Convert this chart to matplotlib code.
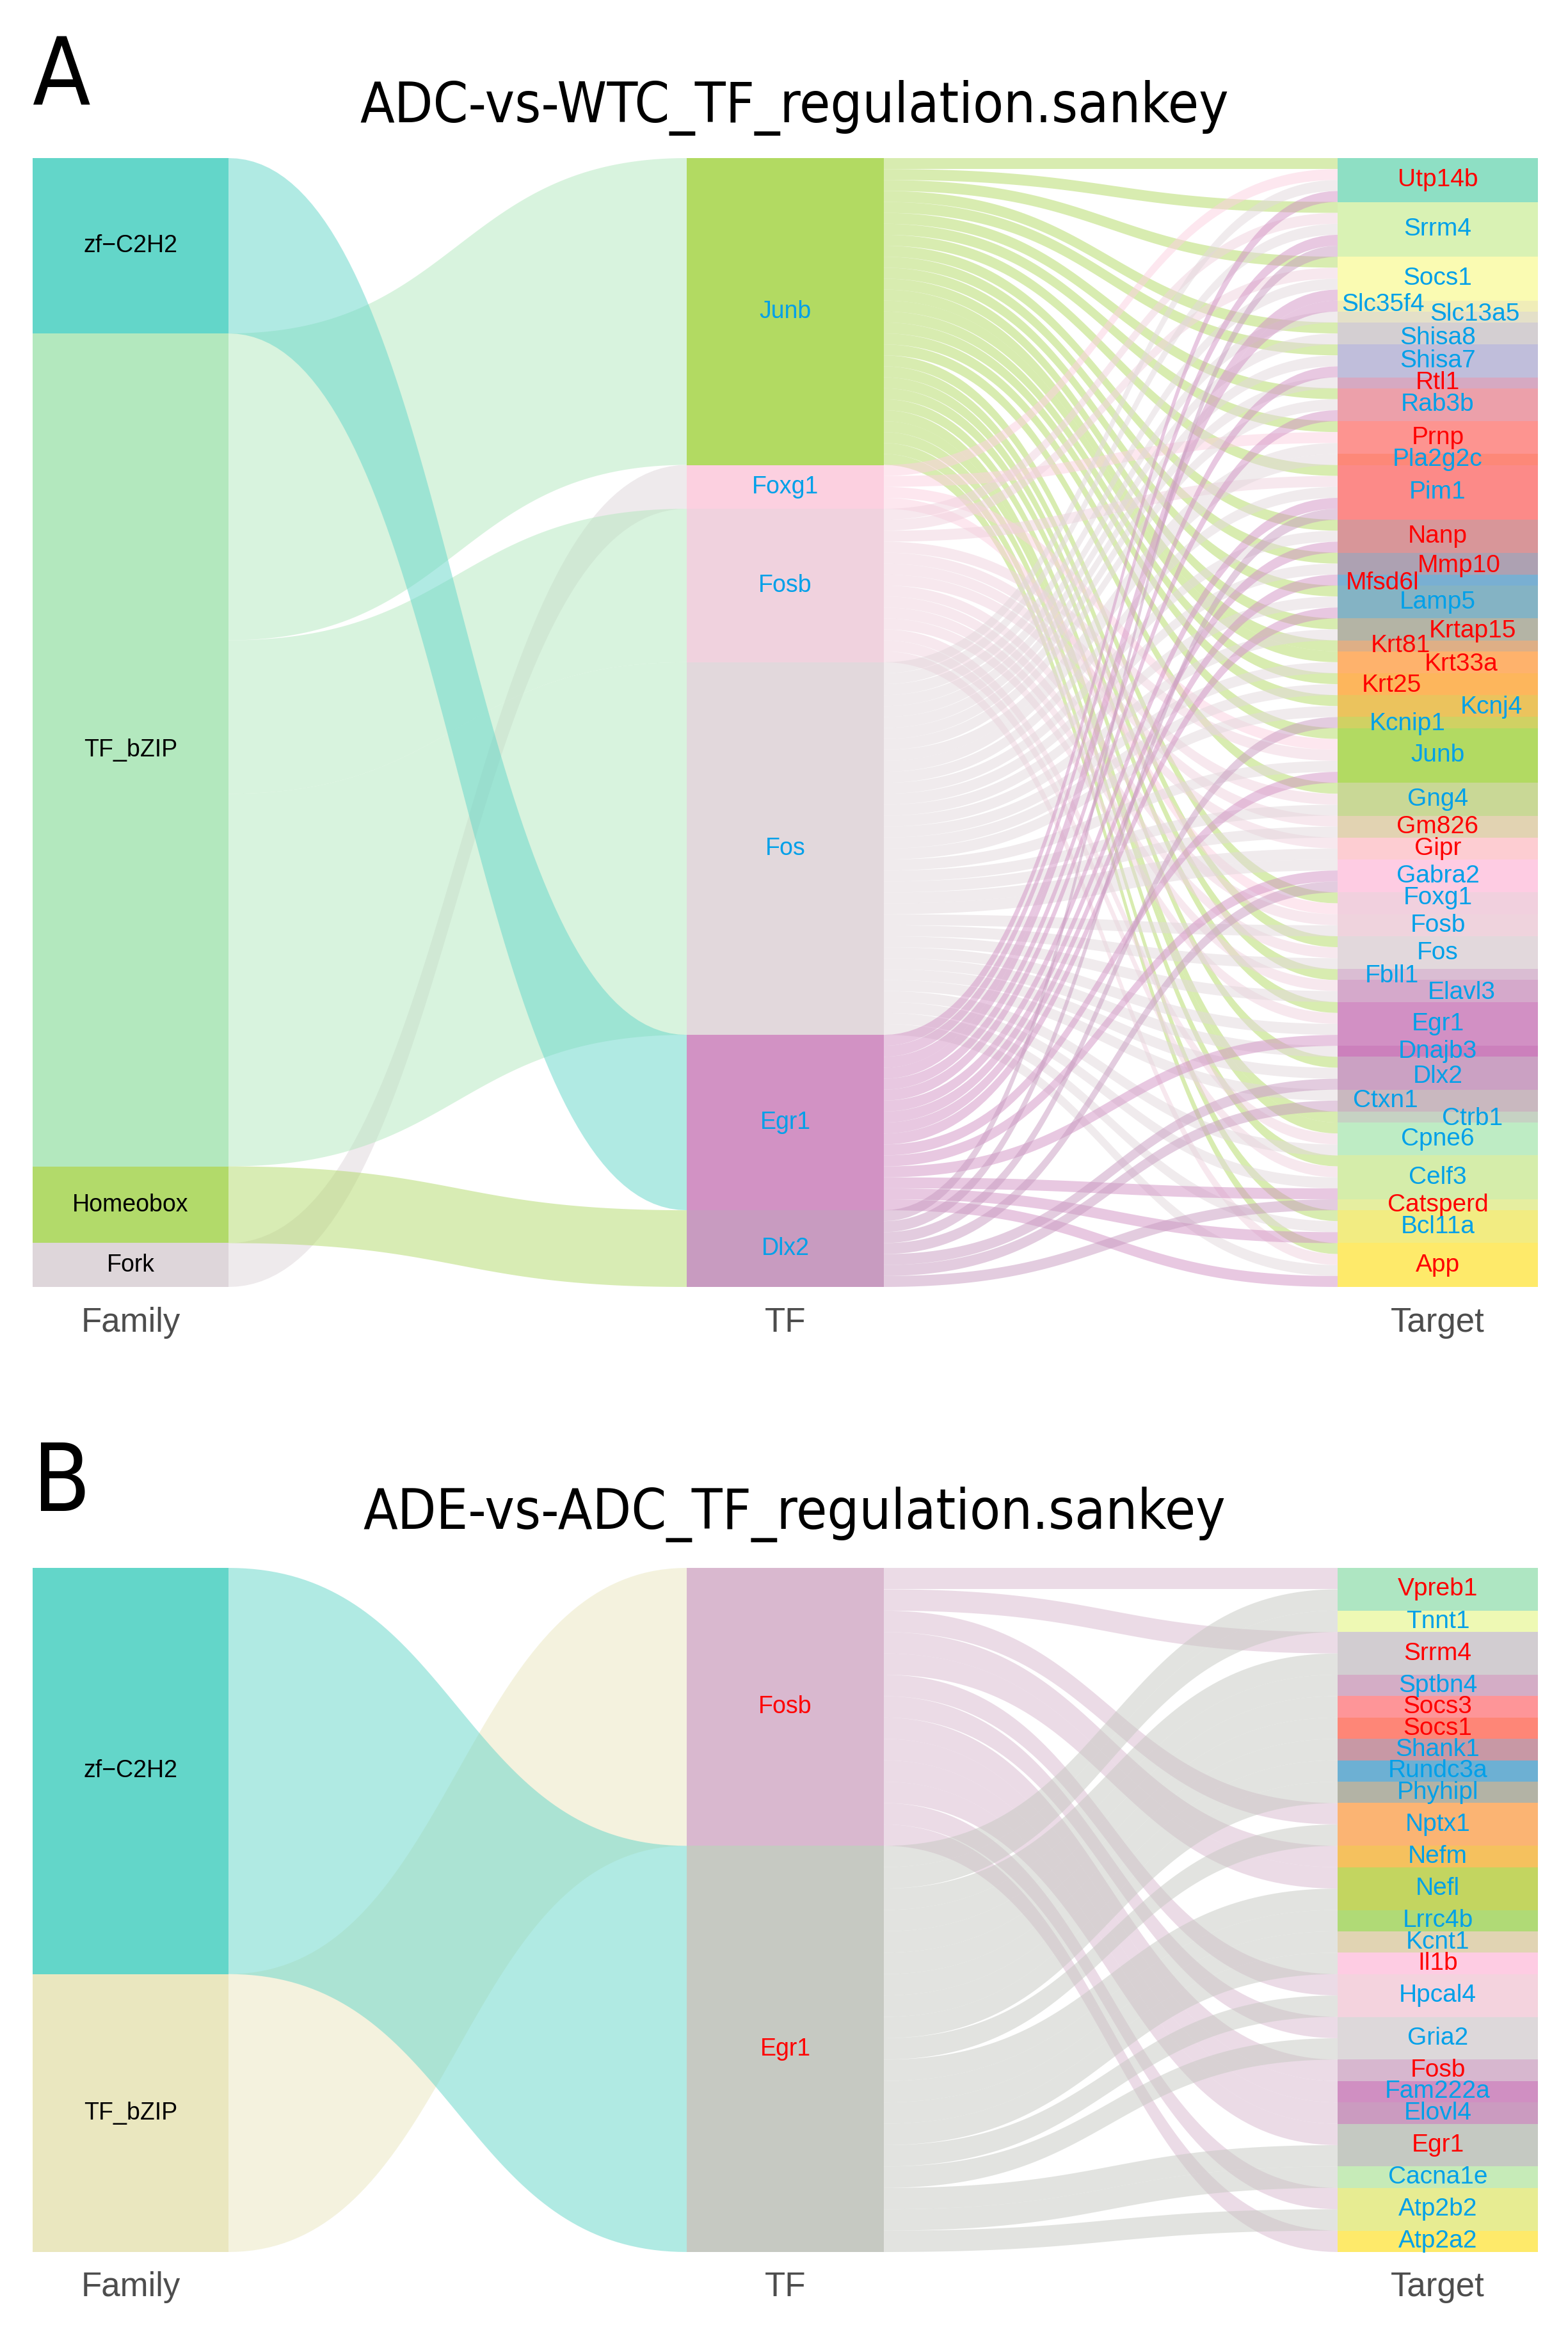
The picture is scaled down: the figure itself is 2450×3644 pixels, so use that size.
import matplotlib
matplotlib.use('Agg')
import matplotlib.pyplot as plt
import numpy as np
from matplotlib.patches import Polygon, Rectangle
from matplotlib import font_manager

# ---------------- panel A data ----------------
a_families = ['zf−C2H2', 'TF_bZIP', 'Homeobox', 'Fork']
a_family_colors = ['#63D6C9', '#B3E8BE', '#B2DA6A', '#DED6DA']
a_tfs = ['Junb', 'Foxg1', 'Fosb', 'Fos', 'Egr1', 'Dlx2']
a_tf_family = ['TF_bZIP', 'Fork', 'TF_bZIP', 'TF_bZIP', 'zf−C2H2', 'Homeobox']
a_tf_colors = ['#B2DA62', '#FCD0E0', '#F0D2DE', '#E2D8DC', '#D292C4', '#C89BC0']
a_tf_up = []

a_targets = ['Utp14b', 'Srrm4', 'Socs1', 'Slc35f4', 'Slc13a5', 'Shisa8', 'Shisa7',
             'Rtl1', 'Rab3b', 'Prnp', 'Pla2g2c', 'Pim1', 'Nanp', 'Mmp10', 'Mfsd6l',
             'Lamp5', 'Krtap15', 'Krt81', 'Krt33a', 'Krt25', 'Kcnj4', 'Kcnip1', 'Junb',
             'Gng4', 'Gm826', 'Gipr', 'Gabra2', 'Foxg1', 'Fosb', 'Fos', 'Fbll1', 'Elavl3',
             'Egr1', 'Dnajb3', 'Dlx2', 'Ctxn1', 'Ctrb1', 'Cpne6', 'Celf3', 'Catsperd',
             'Bcl11a', 'App']
a_target_colors = ['#8EDFC4', '#D9F2B4', '#FAFBB2', '#F0EDB8', '#E4E0C8', '#D4CFD2',
                   '#C0BEDB', '#D6A9C2', '#ECA0AA', '#FD9490', '#FD8878', '#FC8A88',
                   '#D89699', '#ADA1B2', '#79AFD2', '#84B3C4', '#B4B4A5', '#DEAF86',
                   '#FEB26C', '#FDB65C', '#EBC35D', '#D0D163', '#B2DA62', '#C9D896',
                   '#E2D3B2', '#FDCDD2', '#FECCE3', '#F1D0DE', '#EFD3DD', '#E2D8DC',
                   '#DABDD3', '#D5A9CB', '#D290C4', '#CC80BC', '#CBA1C3', '#C9B8BF',
                   '#C6D2C3', '#BEECC4', '#D5EDAA', '#E6EEA0', '#F2EC82', '#FEEA6A']
a_target_up = ['Utp14b', 'Rtl1', 'Prnp', 'Nanp', 'Mmp10', 'Mfsd6l', 'Krtap15', 'Krt81',
               'Krt33a', 'Krt25', 'Gm826', 'Gipr', 'Catsperd', 'App']

a_junb_targets = ['Utp14b', 'Srrm4', 'Socs1', 'Shisa8', 'Shisa7', 'Rab3b', 'Prnp', 'Pim1',
                  'Nanp', 'Mmp10', 'Lamp5', 'Krtap15', 'Krt81', 'Krt33a', 'Krt25', 'Kcnj4',
                  'Junb', 'Gng4', 'Foxg1', 'Fos', 'Fbll1', 'Egr1', 'Dlx2', 'Ctrb1', 'Cpne6',
                  'Celf3', 'Bcl11a', 'App']
a_foxg1_targets = ['Utp14b', 'Prnp', 'Junb', 'Foxg1']
a_fosb_targets = ['Srrm4', 'Socs1', 'Pim1', 'Junb', 'Gng4', 'Gm826', 'Gipr', 'Fosb', 'Fos',
                  'Elavl3', 'Egr1', 'Cpne6', 'Celf3', 'App']
a_fos_targets = ['Utp14b', 'Srrm4', 'Socs1', 'Slc13a5', 'Shisa8', 'Shisa7', 'Rtl1', 'Rab3b',
                 'Prnp', 'Pla2g2c', 'Pim1', 'Nanp', 'Mmp10', 'Lamp5', 'Krtap15', 'Krt33a',
                 'Krt25', 'Kcnj4', 'Junb', 'Gng4', 'Gm826', 'Gipr', 'Gabra2', 'Fosb', 'Fos',
                 'Elavl3', 'Egr1', 'Dnajb3', 'Dlx2', 'Ctxn1', 'Cpne6', 'Celf3', 'Bcl11a', 'App']
a_egr1_targets = ['Utp14b', 'Srrm4', 'Socs1', 'Slc35f4', 'Shisa7', 'Rab3b', 'Pim1', 'Nanp',
                  'Mfsd6l', 'Lamp5', 'Junb', 'Gabra2', 'Egr1', 'Celf3', 'Bcl11a', 'App']
a_dlx2_targets = ['Srrm4', 'Pim1', 'Kcnip1', 'Gabra2', 'Dlx2', 'Ctxn1', 'Catsperd']

# ---------------- panel B data ----------------
b_families = ['zf−C2H2', 'TF_bZIP']
b_family_colors = ['#63D6C9', '#EAE7BF']
b_tfs = ['Fosb', 'Egr1']
b_tf_family = ['TF_bZIP', 'zf−C2H2']
b_tf_colors = ['#D9B8CF', '#C6C9C2']
b_tf_up = ['Fosb', 'Egr1']

b_targets = ['Vpreb1', 'Tnnt1', 'Srrm4', 'Sptbn4', 'Socs3', 'Socs1', 'Shank1', 'Rundc3a',
             'Phyhipl', 'Nptx1', 'Nefm', 'Nefl', 'Lrrc4b', 'Kcnt1', 'Il1b', 'Hpcal4',
             'Gria2', 'Fosb', 'Fam222a', 'Elovl4', 'Egr1', 'Cacna1e', 'Atp2b2', 'Atp2a2']
b_target_colors = ['#AEE6C2', '#EEF9B4', '#D2CDD1', '#D4ADC6', '#FE9598', '#FE8677',
                   '#C898A5', '#6DB0D3', '#B3B3A5', '#FBB473', '#F5C15E', '#C3D560',
                   '#B0DA76', '#E1D4B3', '#FECCE3', '#F4D3DE', '#DDD8DA', '#D7B7CF',
                   '#D08FC2', '#CB9BC0', '#C5C9C2', '#C6EBB8', '#E7EC92', '#FEEA6A']
b_target_up = ['Vpreb1', 'Srrm4', 'Socs3', 'Socs1', 'Il1b', 'Fosb', 'Egr1']

b_fosb_targets = ['Vpreb1', 'Srrm4', 'Nptx1', 'Nefm', 'Nefl', 'Hpcal4', 'Gria2', 'Fosb',
                  'Fam222a', 'Elovl4', 'Egr1', 'Atp2b2', 'Atp2a2']
b_egr1_targets = ['Vpreb1', 'Tnnt1', 'Srrm4', 'Sptbn4', 'Socs3', 'Socs1', 'Shank1',
                  'Rundc3a', 'Phyhipl', 'Nptx1', 'Nefl', 'Lrrc4b', 'Kcnt1', 'Il1b', 'Hpcal4',
                  'Gria2', 'Egr1', 'Cacna1e', 'Atp2b2']

# ---------------- layout ----------------
W, H, DPI = 2450, 3644, 100
UP_COLOR = '#FF0000'
DOWN_COLOR = '#00A0E9'
FAM_X = (51, 357)
TF_X = (1073, 1381)
TGT_X = (2090, 2403)

names = {f.name for f in font_manager.fontManager.ttflist}
NARROW = 'Liberation Sans Narrow' if 'Liberation Sans Narrow' in names else 'DejaVu Sans'
TITLE_SIZE = 73 if NARROW == 'Liberation Sans Narrow' else 63
plt.rcParams['font.family'] = ['Liberation Sans', 'DejaVu Sans']

# label nudges (px) for crowded target labels, like ggrepel
a_nudge = {'Slc35f4': (-86, -2), 'Slc13a5': (58, -4), 'Shisa8': (0, 7), 'Mmp10': (33, 3),
           'Mfsd6l': (-86, 5), 'Krtap15': (54, 3), 'Krt81': (-58, 0), 'Krt33a': (37, 3),
           'Krt25': (-72, 2), 'Kcnj4': (84, 2), 'Kcnip1': (-47, 2), 'Foxg1': (0, -9),
           'Fbll1': (-72, 2), 'Elavl3': (37, 2), 'Dlx2': (0, 5), 'Ctxn1': (-82, 0),
           'Ctrb1': (54, 2)}


def curve(x0, x1, y0, y1, n=80):
    t = np.linspace(0, 1, n)
    xm = (x0 + x1) / 2
    x = (1 - t) ** 3 * x0 + 3 * (1 - t) ** 2 * t * xm + 3 * (1 - t) * t ** 2 * xm + t ** 3 * x1
    y = (1 - t) ** 3 * y0 + 3 * (1 - t) ** 2 * t * y0 + 3 * (1 - t) * t ** 2 * y1 + t ** 3 * y1
    return x, y


def flow(ax, x0, x1, a0, b0, a1, b1, color):
    xt, yt = curve(x0, x1, a0, a1)
    xb, yb = curve(x0, x1, b0, b1)
    pts = np.vstack([np.column_stack([xt, yt]), np.column_stack([xb[::-1], yb[::-1]])])
    ax.add_patch(Polygon(pts, closed=True, facecolor=color, alpha=0.5,
                         edgecolor='none', linewidth=0, zorder=1))


def draw_panel(y_top, y_bot, families, fam_colors, tfs, tf_family, tf_colors, tf_up,
               tf_targets, targets, tgt_colors, tgt_up, nudge):
    ax = fig.add_axes([0, 1 - y_bot / H, 1, (y_bot - y_top) / H])
    tf_size = [len(t) for t in tf_targets]
    fam_size = [sum(s for s, f in zip(tf_size, tf_family) if f == fam) for fam in families]
    tgt_size = [sum(tg in t for t in tf_targets) for tg in targets]
    total = sum(tf_size)
    ax.set_xlim(0, W)
    ax.set_ylim(total, 0)
    ax.axis('off')
    px = (y_bot - y_top) / total  # pixels per unit, for nudges

    fam_top = dict(zip(families, np.cumsum([0] + fam_size[:-1])))
    tf_top = dict(zip(tfs, np.cumsum([0] + tf_size[:-1])))
    tgt_top = dict(zip(targets, np.cumsum([0] + tgt_size[:-1])))

    # family -> TF flows
    used = {f: 0 for f in families}
    for tf, fam, n in zip(tfs, tf_family, tf_size):
        a0 = fam_top[fam] + used[fam]
        used[fam] += n
        flow(ax, FAM_X[1], TF_X[0], a0, a0 + n, tf_top[tf], tf_top[tf] + n,
             fam_colors[families.index(fam)])

    # TF -> target flows, stacked by target order at the TF, by TF order at the target
    tgt_used = {t: 0 for t in targets}
    for tf, col, tl in zip(tfs, tf_colors, tf_targets):
        k = tf_top[tf]
        for tg in sorted(tl, key=targets.index):
            j = tgt_top[tg] + tgt_used[tg]
            tgt_used[tg] += 1
            flow(ax, TF_X[1], TGT_X[0], k, k + 1, j, j + 1, col)
            k += 1

    # nodes
    for names_, sizes, tops, cols, xs in ((families, fam_size, fam_top, fam_colors, FAM_X),
                                          (tfs, tf_size, tf_top, tf_colors, TF_X),
                                          (targets, tgt_size, tgt_top, tgt_colors, TGT_X)):
        for nm, s, c in zip(names_, sizes, cols):
            ax.add_patch(Rectangle((xs[0], tops[nm]), xs[1] - xs[0], s, facecolor=c,
                                   edgecolor='none', zorder=2))

    # labels
    for nm, s in zip(families, fam_size):
        ax.text(sum(FAM_X) / 2, fam_top[nm] + s / 2, nm, ha='center', va='center',
                fontsize=27, color='black', zorder=3)
    for nm, s in zip(tfs, tf_size):
        ax.text(sum(TF_X) / 2, tf_top[nm] + s / 2, nm, ha='center', va='center',
                fontsize=27, color=UP_COLOR if nm in tf_up else DOWN_COLOR, zorder=3)
    for nm, s in zip(targets, tgt_size):
        dx, dy = nudge.get(nm, (0, 0))
        ax.text(sum(TGT_X) / 2 + dx, tgt_top[nm] + s / 2 + dy / px, nm, ha='center',
                va='center', fontsize=28, color=UP_COLOR if nm in tgt_up else DOWN_COLOR,
                zorder=3)
    return ax


fig = plt.figure(figsize=(W / DPI, H / DPI), dpi=DPI)

draw_panel(247, 2011, a_families, a_family_colors, a_tfs, a_tf_family, a_tf_colors, a_tf_up,
           [a_junb_targets, a_foxg1_targets, a_fosb_targets, a_fos_targets, a_egr1_targets,
            a_dlx2_targets],
           a_targets, a_target_colors, a_target_up, a_nudge)
draw_panel(2450, 3519, b_families, b_family_colors, b_tfs, b_tf_family, b_tf_colors, b_tf_up,
           [b_fosb_targets, b_egr1_targets],
           b_targets, b_target_colors, b_target_up, {})

# titles, panel letters, axis names
for letter, title, base, axis_y in (('A', 'ADC-vs-WTC_TF_regulation.sankey', 191, 2067),
                                    ('B', 'ADE-vs-ADC_TF_regulation.sankey', 2389, 3574)):
    fig.text(51 / W, 1 - (base - 28) / H, letter, fontsize=106, family=NARROW,
             fontstretch='condensed', ha='left', va='baseline')
    fig.text(1241 / W, 1 - base / H, title, fontsize=TITLE_SIZE, family=NARROW,
             fontstretch='condensed', ha='center', va='baseline')
    for name, xs in (('Family', FAM_X), ('TF', TF_X), ('Target', TGT_X)):
        fig.text(sum(xs) / 2 / W, 1 - axis_y / H, name, fontsize=38, color='#4D4D4D',
                 ha='center', va='center')

fig.savefig('out.png', dpi=DPI, facecolor='white')
